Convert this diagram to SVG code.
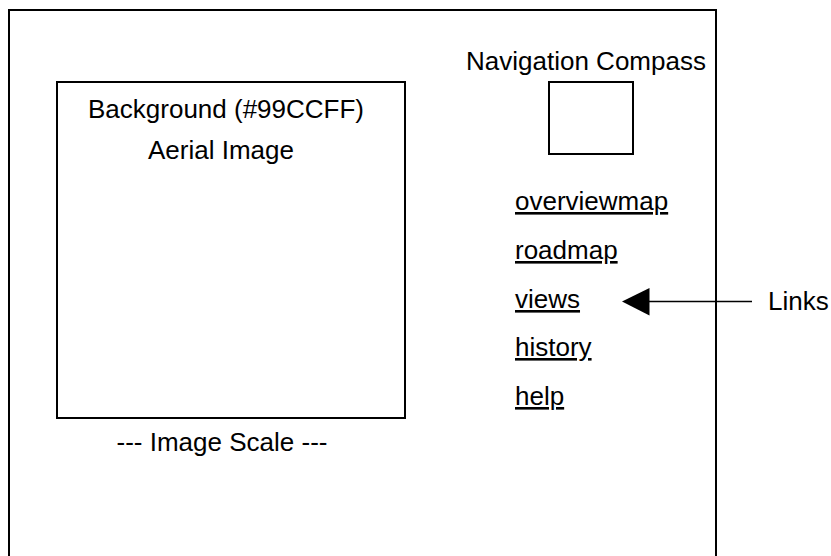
<svg xmlns="http://www.w3.org/2000/svg" width="831" height="556" viewBox="0 0 831 556">
  <style>
    .box { fill: none; stroke: #000; stroke-width: 2; }
    .lbl { font-family: "Liberation Sans", Arial, sans-serif; font-size: 26px; fill: #000; }
    .mid { text-anchor: middle; }
    .link { text-decoration: underline; }
    .conn { stroke: #000; stroke-width: 1.6; fill: none; }
  </style>
  <rect width="831" height="556" fill="#fff"/>

  <!-- page frame (runs off the bottom edge) -->
  <g id="page">
    <rect class="box" x="9" y="10" width="707" height="580"/>
  </g>

  <!-- aerial image area -->
  <g id="aerial-image">
    <rect class="box" x="57" y="82" width="348" height="336"/>
    <text class="lbl mid" x="226" y="118">Background (#99CCFF)</text>
    <text class="lbl mid" x="221" y="159">Aerial Image</text>
  </g>

  <g id="image-scale">
    <text class="lbl mid" x="222" y="451">--- Image Scale ---</text>
  </g>

  <!-- navigation compass -->
  <g id="navigation-compass">
    <text class="lbl mid" x="586" y="69.5">Navigation Compass</text>
    <rect class="box" x="549" y="82" width="84" height="72"/>
  </g>

  <!-- link list -->
  <g id="links">
    <text class="lbl link" x="515" y="210">overviewmap</text>
    <text class="lbl link" x="515" y="259">roadmap</text>
    <text class="lbl link" x="515" y="308">views</text>
    <text class="lbl link" x="515" y="356">history</text>
    <text class="lbl link" x="515" y="405">help</text>
  </g>

  <g id="links-label">
    <text class="lbl" x="768" y="310">Links</text>
  </g>

  <!-- connectors -->
  <g id="connectors">
    <line class="conn" x1="752" y1="301.5" x2="649" y2="301.5"/>
    <path d="M622,301.5 L649.5,288 L649.5,315.5 Z" fill="#000"/>
  </g>
</svg>
